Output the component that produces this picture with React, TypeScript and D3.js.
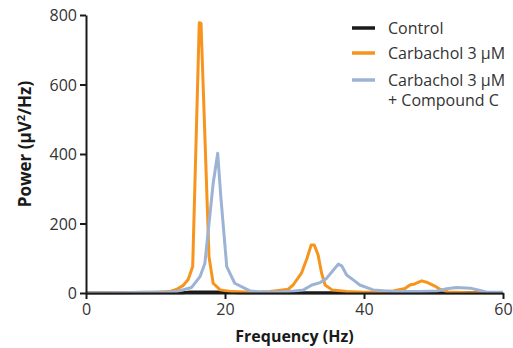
import React, { useRef, useEffect } from "react";
import * as d3 from "d3";

// [frequency Hz, power µV²/Hz]
const controlData: [number, number][] = [
  [0, 0], [10, 1], [14, 1], [15, 3], [20, 3], [22, 1], [30, 1], [45, 1], [50, 1], [60, 1],
];

const carbacholData: [number, number][] = [
  [0, 0], [5, 1], [8, 2], [10, 2], [12, 4], [13, 10], [14, 22], [14.7, 39], [15.35, 76],
  [16.3, 778], [16.55, 776], [17.7, 104], [18.3, 28], [19.3, 9], [21, 4], [24, 2],
  [26.5, 4], [28, 8], [29.1, 11], [29.8, 23], [31, 57], [31.8, 100], [32.4, 138],
  [32.85, 138], [33.4, 109], [33.9, 57], [34.4, 23], [35.4, 9], [37.5, 4], [40, 2],
  [42, 3], [44.2, 6], [45.9, 13], [46.6, 23], [47.3, 26], [48.3, 35], [49, 31],
  [50.2, 20], [50.9, 11], [52.1, 3], [55, 1], [60, 1],
];

const compoundData: [number, number][] = [
  [0, 0], [5, 1], [10, 2], [12, 3], [13, 4], [15.2, 16], [16.4, 47], [17.1, 85],
  [17.7, 200], [18.3, 316], [18.95, 402], [19.4, 277], [20.25, 76], [21.4, 28],
  [23.6, 6], [25, 3], [28, 3], [30, 6], [31.3, 9], [32.5, 23], [33.7, 30], [34.6, 42],
  [35.6, 66], [36.3, 83], [36.8, 78], [37.5, 52], [38.5, 37], [39.4, 23], [41.3, 9],
  [44.2, 4], [48, 4], [50.5, 6], [51.9, 12], [53.3, 16], [55.3, 14], [56.7, 7],
  [57.7, 2], [60, 2],
];

const xTicks = [0, 20, 40, 60];
const yTicks = [0, 200, 400, 600, 800];

const series = [
  { name: "Control", data: controlData, color: "#1a1a1a" },
  { name: "Carbachol 3 µM", data: carbacholData, color: "#f7941d" },
  { name: "Carbachol 3 µM|+ Compound C", data: compoundData, color: "#9db3d6" },
];

const W = 513;
const H = 348;
const FONT = "'Open Sans', sans-serif";

export default function App() {
  const svgRef = useRef<SVGSVGElement>(null);

  useEffect(() => {
    const svg = d3.select(svgRef.current);
    svg.selectAll("*").remove();

    const x = d3.scaleLinear().domain([0, 60]).range([86, 503]);
    const y = d3.scaleLinear().domain([0, 800]).range([293, 15]);

    const line = d3
      .line<[number, number]>()
      .x((d) => x(d[0]))
      .y((d) => y(d[1]));

    // lines
    series.forEach((s) => {
      svg
        .append("path")
        .datum(s.data)
        .attr("d", line)
        .attr("fill", "none")
        .attr("stroke", s.color)
        .attr("stroke-width", 3)
        .attr("stroke-linejoin", "round");
    });

    // axes
    const xAxis = svg
      .append("g")
      .attr("transform", `translate(0,${y(0)})`)
      .call(d3.axisBottom(x).tickValues(xTicks).tickSize(6).tickPadding(5).tickSizeOuter(0));
    const yAxis = svg
      .append("g")
      .attr("transform", `translate(${x(0)},0)`)
      .call(d3.axisLeft(y).tickValues(yTicks).tickSize(6).tickPadding(3).tickSizeOuter(0));

    [xAxis, yAxis].forEach((a) => {
      a.select(".domain").attr("stroke", "#1a1a1a").attr("stroke-width", 2);
      a.selectAll(".tick line").attr("stroke", "#1a1a1a").attr("stroke-width", 2);
      a.selectAll(".tick text")
        .attr("fill", "#333")
        .attr("font-size", 16)
        .attr("font-family", FONT);
    });
    yAxis.selectAll(".tick text").attr("dy", "0.36em");

    // axis titles
    svg
      .append("text")
      .attr("x", (x(0) + x(60)) / 2)
      .attr("y", 342)
      .attr("text-anchor", "middle")
      .attr("font-family", FONT)
      .attr("font-weight", "bold")
      .attr("font-size", 16)
      .attr("fill", "#1a1a1a")
      .text("Frequency (Hz)");

    const yt = svg
      .append("text")
      .attr("transform", `translate(31,144) rotate(-90)`)
      .attr("text-anchor", "middle")
      .attr("font-family", FONT)
      .attr("font-weight", "bold")
      .attr("font-size", 17)
      .attr("fill", "#1a1a1a");
    yt.append("tspan").text("Power (µV");
    yt.append("tspan").attr("dy", -6).attr("font-size", 11).text("2");
    yt.append("tspan").attr("dy", 6).text("/Hz)");

    // legend
    const legendY = [28, 53, 80];
    series.forEach((s, i) => {
      const g = svg.append("g").attr("transform", `translate(352,${legendY[i]})`);
      g.append("line")
        .attr("x1", 0)
        .attr("x2", 23)
        .attr("stroke", s.color)
        .attr("stroke-width", 3.5);
      s.name.split("|").forEach((t, j) => {
        g.append("text")
          .attr("x", 36)
          .attr("y", j * 20.5)
          .attr("dy", "0.35em")
          .attr("font-family", FONT)
          .attr("font-size", 16)
          .attr("fill", "#333")
          .text(t);
      });
    });
  }, []);

  return (
    <svg
      ref={svgRef}
      width={W}
      height={H}
      style={{ position: "absolute", left: 0, top: 0, background: "#fff" }}
    />
  );
}
